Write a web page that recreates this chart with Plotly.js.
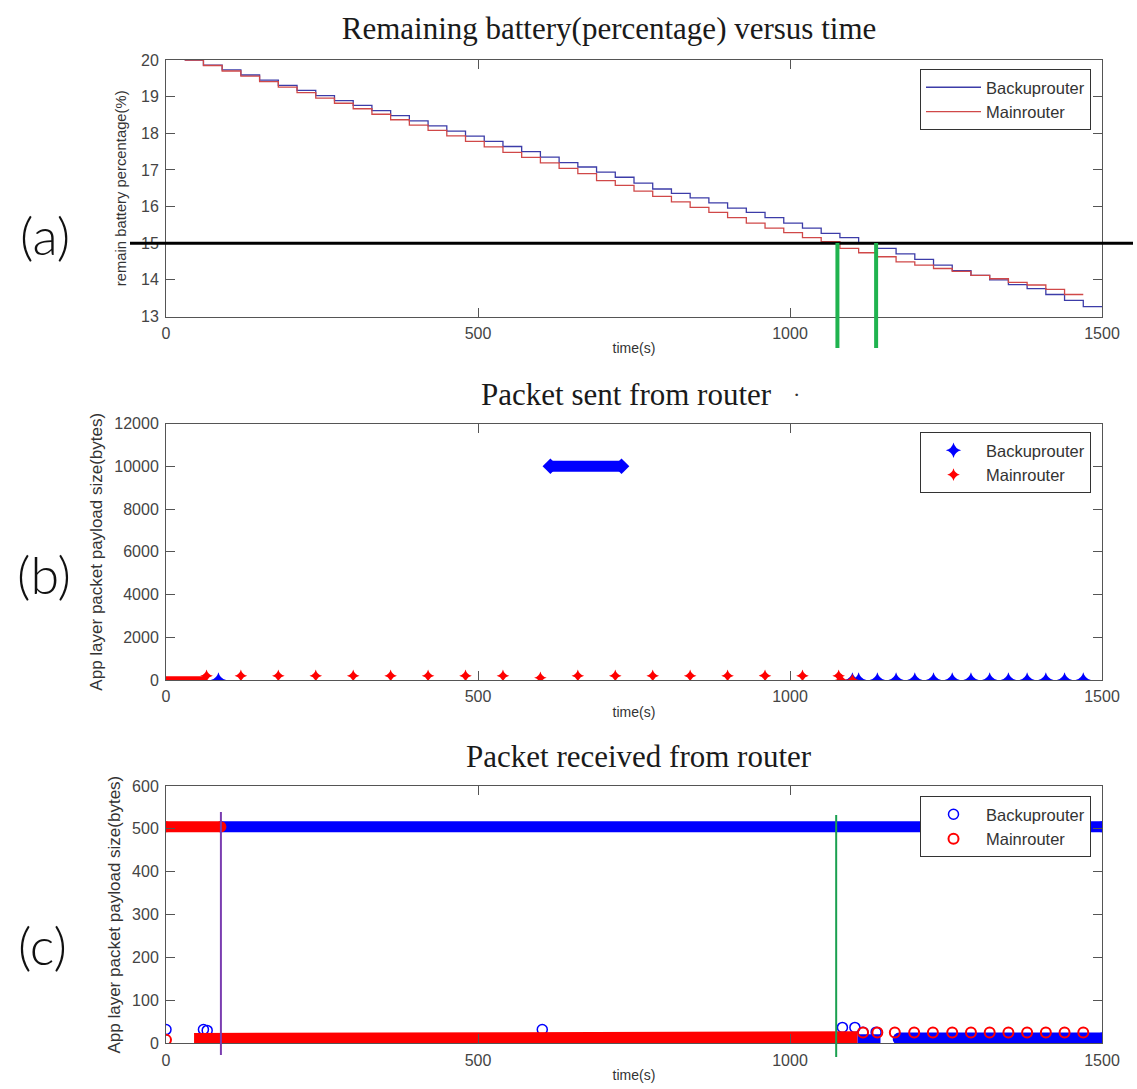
<!DOCTYPE html>
<html>
<head>
<meta charset="utf-8">
<script src="https://cdn.plot.ly/plotly-3.0.1.min.js"></script>
<style>html,body{margin:0;padding:0;background:#fff;}#chart{width:1137px;height:1089px;}</style>
</head>
<body>
<div id="chart"></div>
<script>
// ---------- (a) Remaining battery ----------
const battTimeBackup = [30,60,90,120,150,180,210,240,270,300,330,360,390,420,450,480,510,540,570,600,630,660,690,720,750,780,810,840,870,900,930,960,990,1020,1050,1080,1110,1140,1170,1200,1230,1260,1290,1320,1350,1380,1410,1440,1470,1500];
const battBackup = [20.00,19.86,19.73,19.59,19.45,19.31,19.17,19.03,18.89,18.76,18.62,18.48,18.34,18.20,18.06,17.92,17.78,17.64,17.50,17.35,17.20,17.08,16.94,16.80,16.64,16.48,16.36,16.24,16.10,15.96,15.84,15.70,15.55,15.41,15.27,15.15,15.00,14.86,14.71,14.56,14.40,14.25,14.12,14.00,13.87,13.76,13.60,13.44,13.27,13.27];
const battTimeMain = [30,60,90,120,150,180,210,240,270,300,330,360,390,420,450,480,510,540,570,600,630,660,690,720,750,780,810,840,870,900,930,960,990,1020,1050,1080,1110,1140,1170,1200,1230,1260,1290,1320,1350,1380,1410,1440,1470];
const battMain = [20.00,19.85,19.70,19.56,19.41,19.26,19.11,18.96,18.82,18.67,18.52,18.37,18.22,18.08,17.93,17.78,17.63,17.48,17.34,17.19,17.04,16.90,16.71,16.58,16.42,16.28,16.13,15.98,15.84,15.70,15.55,15.41,15.29,15.15,15.04,14.86,14.74,14.63,14.49,14.40,14.31,14.23,14.12,14.03,13.93,13.86,13.74,13.60,13.60];
const thresholdLevel = 15;          // black horizontal line
const thresholdCrossTimes = [1076, 1138]; // green markers

// ---------- (b) Packet sent ----------
const sentBackupT = [84,1100,1110,1140,1170,1200,1230,1260,1290,1320,1350,1380,1410,1440,1470];
const sentBackupV = [0,0,0,0,0,0,0,0,0,0,0,0,0,0,0];
const sentBackupBandT = [616,730];
const sentBackupBandV = [10000,10000];
const sentMainT = [65,120,180,240,300,360,420,480,540,600,660,720,780,840,900,960,1020,1078,1082,1100];
const sentMainV = [200,200,200,200,200,200,200,200,200,100,200,200,200,200,200,200,200,200,0,0];
const sentMainBandT = [0,66];
const sentMainBandV = [40,40];

// ---------- (c) Packet received ----------
const recvBackupHighT = [88,1500];
const recvBackupHighV = [505,505];
const recvMainHighT = [0,88];
const recvMainHighV = [505,505];
const recvMainLowT = [45,280,280,1108];
const recvMainLowV = [10,10,14,14];
const recvBackupLowT = [1108,1145];
const recvBackupLowV = [8,8];
const recvBackupLow2T = [1175,1500];
const recvBackupLow2V = [10,10];
const recvBackupT = [0,60,66,603,1084,1104,1117,1138];
const recvBackupV = [32,32,30,32,37,37,26,26];
const recvMainT = [0,1117,1140,1168,1199,1229,1260,1290,1320,1350,1380,1410,1440,1470];
const recvMainV = [8,25,25,25,25,25,25,25,25,25,25,25,25,25];
const switchLineTimes = [88, 1074];

const W = 1137, H = 1089;
const px = v => v / W, py = v => 1 - v / H;
const BLUE = 'rgb(0,0,255)', RED = 'rgb(255,0,0)';
const tickFont = {family: 'Liberation Sans, Arial, sans-serif', size: 16, color: '#444'};
const titleSerif = {family: 'Liberation Serif, Times New Roman, serif', size: 31, color: '#1a1a1a'};

function xax(anchor) {
  return {
    domain: [px(166), px(1102)], range: [0, 1500], anchor: anchor,
    tickvals: [0, 500, 1000, 1500], ticks: 'inside', ticklen: 9, tickcolor: '#555', tickwidth: 1,
    showline: true, linecolor: '#555', linewidth: 1, mirror: 'ticks',
    showgrid: false, zeroline: false, tickfont: tickFont, automargin: false,
    ticklabelstandoff: 2,
    title: {text: 'time(s)', font: {family: 'Liberation Sans, Arial, sans-serif', size: 14, color: '#333'}, standoff: 2}
  };
}
function yax(anchor, dom, range, dtick, title, tsize, standoff) {
  return {
    domain: dom, range: range, dtick: dtick, anchor: anchor, tickformat: 'd',
    ticks: 'inside', ticklen: 9, tickcolor: '#555', tickwidth: 1,
    showline: true, linecolor: '#555', linewidth: 1, mirror: 'ticks',
    showgrid: false, zeroline: false, tickfont: tickFont, automargin: false,
    ticklabelstandoff: 3,
    title: {text: title, font: {family: 'Liberation Sans, Arial, sans-serif', size: tsize, color: '#333'}, standoff: standoff}
  };
}

const traces = [
  // (a)
  {x: battTimeBackup, y: battBackup, type: 'scatter', mode: 'lines', line: {shape: 'hv', color: '#3c3ca8', width: 1.3}, name: 'Backuprouter', xaxis: 'x', yaxis: 'y', legend: 'legend'},
  {x: battTimeMain, y: battMain, type: 'scatter', mode: 'lines', line: {shape: 'hv', color: '#d04848', width: 1.3}, name: 'Mainrouter', xaxis: 'x', yaxis: 'y', legend: 'legend'},
  // (b)
  {x: sentBackupBandT, y: sentBackupBandV, type: 'scatter', mode: 'lines+markers', line: {color: BLUE, width: 11}, marker: {symbol: 'diamond', size: 12, color: BLUE}, showlegend: false, xaxis: 'x2', yaxis: 'y2', hoverinfo: 'skip'},
  {x: sentBackupT, y: sentBackupV, type: 'scatter', mode: 'markers', marker: {symbol: 'star-diamond', size: 11, color: BLUE}, name: 'Backuprouter', xaxis: 'x2', yaxis: 'y2', legend: 'legend2'},
  {x: sentMainBandT, y: sentMainBandV, type: 'scatter', mode: 'lines', line: {color: RED, width: 6}, showlegend: false, xaxis: 'x2', yaxis: 'y2', hoverinfo: 'skip'},
  {x: sentMainT, y: sentMainV, type: 'scatter', mode: 'markers', marker: {symbol: 'star-diamond', size: 9, color: RED}, name: 'Mainrouter', xaxis: 'x2', yaxis: 'y2', legend: 'legend2'},
  // (c)
  {x: recvBackupHighT, y: recvBackupHighV, type: 'scatter', mode: 'lines+markers', line: {color: BLUE, width: 11}, marker: {symbol: 'circle', size: 11, color: BLUE}, showlegend: false, xaxis: 'x3', yaxis: 'y3', hoverinfo: 'skip'},
  {x: recvBackupLowT, y: recvBackupLowV, type: 'scatter', mode: 'lines', line: {color: BLUE, width: 11}, showlegend: false, xaxis: 'x3', yaxis: 'y3', hoverinfo: 'skip'},
  {x: recvBackupLow2T, y: recvBackupLow2V, type: 'scatter', mode: 'lines+markers', line: {color: BLUE, width: 13}, marker: {symbol: 'circle', size: 13, color: BLUE}, showlegend: false, xaxis: 'x3', yaxis: 'y3', hoverinfo: 'skip'},
  {x: recvBackupT, y: recvBackupV, type: 'scatter', mode: 'markers', marker: {symbol: 'circle-open', size: 10, color: BLUE, line: {width: 1.5}}, name: 'Backuprouter', xaxis: 'x3', yaxis: 'y3', legend: 'legend3'},
  {x: recvMainHighT, y: recvMainHighV, type: 'scatter', mode: 'lines+markers', line: {color: RED, width: 11}, marker: {symbol: 'circle', size: 11, color: RED}, showlegend: false, xaxis: 'x3', yaxis: 'y3', hoverinfo: 'skip'},
  {x: recvMainLowT, y: recvMainLowV, type: 'scatter', mode: 'lines', line: {color: RED, width: 12}, showlegend: false, xaxis: 'x3', yaxis: 'y3', hoverinfo: 'skip'},
  {x: recvMainT, y: recvMainV, type: 'scatter', mode: 'markers', marker: {symbol: 'circle-open', size: 10, color: RED, line: {width: 2}}, name: 'Mainrouter', xaxis: 'x3', yaxis: 'y3', legend: 'legend3'}
];

function legendAt(topPx) {
  return {x: px(920), y: py(topPx), xanchor: 'left', yanchor: 'top', bgcolor: '#fff', bordercolor: '#333', borderwidth: 1,
    itemwidth: 55, font: {family: 'Liberation Sans, Arial, sans-serif', size: 16.5, color: '#333'}, tracegroupgap: 0};
}

const shapes = [
  {type: 'line', xref: 'paper', yref: 'y', x0: px(130), x1: px(1133), y0: thresholdLevel, y1: thresholdLevel, line: {color: '#000', width: 3}, layer: 'above'},
  ...thresholdCrossTimes.map(t => ({type: 'line', xref: 'x', yref: 'paper', x0: t, x1: t, y0: py(348), y1: py(243), line: {color: '#1fb34f', width: 4}, layer: 'above'})),
  {type: 'line', xref: 'x3', yref: 'paper', x0: switchLineTimes[0], x1: switchLineTimes[0], y0: py(1055), y1: py(812), line: {color: '#7a3db0', width: 2}, layer: 'above'},
  {type: 'line', xref: 'x3', yref: 'paper', x0: switchLineTimes[1], x1: switchLineTimes[1], y0: py(1057), y1: py(815), line: {color: '#1aa050', width: 2}, layer: 'above'}
];

const panelFont = {family: 'Lato, Open Sans, sans-serif', size: 52, color: '#111', weight: 300};
const annotations = [
  {text: 'Packet sent from router', xref: 'paper', yref: 'paper', x: px(626), y: py(394), xanchor: 'center', yanchor: 'middle', showarrow: false, font: titleSerif},
  {text: '·', xref: 'paper', yref: 'paper', x: px(796), y: py(394), xanchor: 'center', yanchor: 'middle', showarrow: false, font: {family: 'Liberation Serif, serif', size: 22, color: '#333'}},
  {text: 'Packet received from router', xref: 'paper', yref: 'paper', x: px(639), y: py(756), xanchor: 'center', yanchor: 'middle', showarrow: false, font: titleSerif},
  {text: '(a)', xref: 'paper', yref: 'paper', x: px(45), y: py(235), xanchor: 'center', yanchor: 'middle', showarrow: false, font: panelFont},
  {text: '(b)', xref: 'paper', yref: 'paper', x: px(44), y: py(574), xanchor: 'center', yanchor: 'middle', showarrow: false, font: panelFont},
  {text: '(c)', xref: 'paper', yref: 'paper', x: px(42), y: py(945), xanchor: 'center', yanchor: 'middle', showarrow: false, font: panelFont}
];

const layout = {
  width: W, height: H, margin: {l: 0, r: 0, t: 0, b: 0},
  paper_bgcolor: '#fff', plot_bgcolor: '#fff',
  title: {text: 'Remaining battery(percentage) versus time', x: px(609), xanchor: 'center', y: py(28), yanchor: 'middle', font: titleSerif, xref: 'paper', yref: 'paper'},
  xaxis: xax('y'), yaxis: yax('x', [py(316.5), py(60)], [13, 20], 1, 'remain battery percentage(%)', 14.8, 10),
  xaxis2: xax('y2'), yaxis2: yax('x2', [py(680), py(423.5)], [0, 12000], 2000, 'App layer packet payload size(bytes)', 17, 7),
  xaxis3: xax('y3'), yaxis3: yax('x3', [py(1043.3), py(786)], [0, 600], 100, 'App layer packet payload size(bytes)', 17, 7),
  legend: legendAt(69), legend2: legendAt(432), legend3: legendAt(796),
  shapes: shapes, annotations: annotations, showlegend: true
};

Plotly.newPlot('chart', traces, layout, {staticPlot: true, displayModeBar: false});
</script>
</body>
</html>
